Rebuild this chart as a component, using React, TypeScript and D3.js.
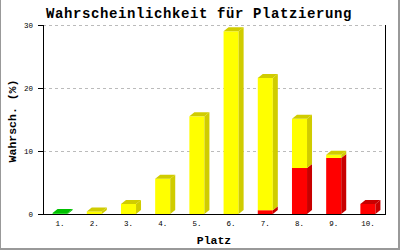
import React from "react";
import * as d3 from "d3";

const categories = ["1.", "2.", "3.", "4.", "5.", "6.", "7.", "8.", "9.", "10."];
const greenValues = [0.15, 0, 0, 0, 0, 0, 0, 0, 0, 0];
const redValues = [0, 0, 0, 0, 0, 0, 0.6, 7.3, 8.9, 1.6];
const yellowValues = [0, 0.4, 1.6, 5.6, 15.5, 29.0, 21.0, 7.8, 0.5, 0];
const yTicks = [0, 10, 20, 30];

const seriesList = [
  { name: "green", values: greenValues, front: "#22DD22", dark: "#00C000" },
  { name: "red", values: redValues, front: "#FF0000", dark: "#C80000" },
  { name: "yellow", values: yellowValues, front: "#FFFF00", dark: "#D0CC00" },
];

const W = 400;
const H = 250;
const left = 43;
const right = 385;
const top = 25;
const bottom = 214;
const DX = 5;
const DY = 4;
const mono = "'Liberation Mono', 'DejaVu Sans Mono', monospace";

export default function App() {
  const x = d3
    .scaleBand<string>()
    .domain(categories)
    .range([left, right])
    .paddingInner(0.56)
    .paddingOuter(0.28);
  const y = d3.scaleLinear().domain([0, 30]).range([bottom, top]);

  const stack = d3
    .stack<number>()
    .keys(seriesList.map((s) => s.name))
    .value((i, key) => seriesList.find((s) => s.name === key)!.values[i]);
  const stacked = stack(categories.map((_, i) => i));

  const bars: JSX.Element[] = [];
  categories.forEach((cat, i) => {
    const x0 = x(cat)!;
    const x1 = x0 + x.bandwidth();
    let topIdx = -1;
    seriesList.forEach((s, si) => {
      if (s.values[i] > 0) topIdx = si;
    });
    seriesList.forEach((s, si) => {
      const v = s.values[i];
      if (!(v > 0)) return;
      const [a, b] = stacked[si][i];
      const yb = y(a);
      const yt = y(b);
      bars.push(
        <rect key={`f-${i}-${si}`} x={x0} y={yt} width={x1 - x0} height={yb - yt} fill={s.front} />
      );
      bars.push(
        <path
          key={`s-${i}-${si}`}
          d={`M${x1},${yb}L${x1 + DX},${yb - DY}L${x1 + DX},${yt - DY}L${x1},${yt}Z`}
          fill={s.dark}
        />
      );
      if (si === topIdx) {
        bars.push(
          <path
            key={`t-${i}-${si}`}
            d={`M${x0},${yt}L${x0 + DX},${yt - DY}L${x1 + DX},${yt - DY}L${x1},${yt}Z`}
            fill={s.dark}
          />
        );
      }
    });
  });

  return (
    <svg
      width={W}
      height={H}
      style={{ position: "absolute", left: 0, top: 0, background: "#fff" }}
    >
      <rect x={0} y={0} width={W} height={H} fill="#fff" />
      {/* frame */}
      <line x1={0.5} y1={0} x2={0.5} y2={H} stroke="#999" />
      <line x1={W - 1} y1={0} x2={W - 1} y2={H} stroke="#999" strokeWidth={2} />
      <line x1={0} y1={H - 1} x2={W} y2={H - 1} stroke="#999" strokeWidth={2} />

      <text
        x={199}
        y={18}
        textAnchor="middle"
        fontFamily={mono}
        fontWeight="bold"
        fontSize={14}
        letterSpacing={0.6}
        fill="#000"
      >
        Wahrscheinlichkeit für Platzierung
      </text>

      {/* grid */}
      {yTicks
        .filter((t) => t > 0)
        .map((t) => (
          <line
            key={`g${t}`}
            x1={left}
            x2={right}
            y1={Math.round(y(t)) + 0.5}
            y2={Math.round(y(t)) + 0.5}
            stroke="#BBBBBB"
            strokeDasharray="3,3"
          />
        ))}

      {bars}

      {/* axes */}
      <line x1={left + 0.5} x2={left + 0.5} y1={top} y2={bottom + 0.5} stroke="#000" />
      <line x1={right + 0.5} x2={right + 0.5} y1={top} y2={bottom + 0.5} stroke="#000" />
      <line x1={left} x2={right + 1} y1={bottom + 0.5} y2={bottom + 0.5} stroke="#000" />
      {yTicks.map((t) => (
        <g key={`t${t}`}>
          <line
            x1={38}
            x2={left}
            y1={Math.round(y(t)) + 0.5}
            y2={Math.round(y(t)) + 0.5}
            stroke="#000"
          />
          <text
            x={33}
            y={y(t) + 2.5}
            textAnchor="end"
            fontFamily={mono}
            fontSize={7.5}
            fill="#000"
          >
            {t}
          </text>
        </g>
      ))}
      {categories.map((c) => (
        <text
          key={`c${c}`}
          x={x(c)! + x.bandwidth() / 2}
          y={226}
          textAnchor="middle"
          fontFamily={mono}
          fontSize={7.5}
          fill="#000"
        >
          {c}
        </text>
      ))}

      <text
        x={214}
        y={244}
        textAnchor="middle"
        fontFamily={mono}
        fontWeight="bold"
        fontSize={11.5}
        fill="#000"
      >
        Platz
      </text>
      <text
        transform="translate(16,121) rotate(-90)"
        textAnchor="middle"
        fontFamily={mono}
        fontWeight="bold"
        fontSize={11.5}
        fill="#000"
      >
        Wahrsch. (%)
      </text>
    </svg>
  );
}
